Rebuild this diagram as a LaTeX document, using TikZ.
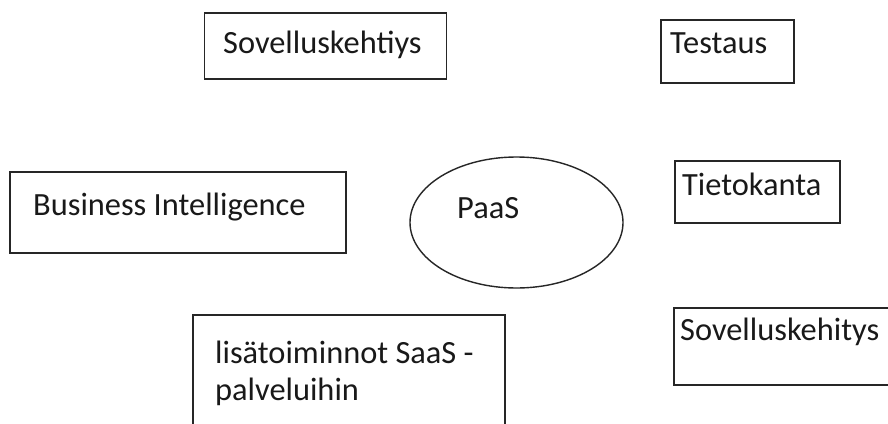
\documentclass[tikz,border=0pt]{standalone}
\usepackage{fontspec}
\setmainfont{Carlito}
\usetikzlibrary{shapes.geometric}
\begin{document}
\begin{tikzpicture}[x=1pt,y=-1pt,
  box/.style={draw=black!85, line width=1.6pt, rectangle, inner sep=0pt, anchor=north west},
  oval/.style={draw=black!85, line width=1.4pt, ellipse, inner sep=0pt, minimum width=213pt, minimum height=131pt},
  lbl/.style={inner sep=0pt, anchor=base west, font=\fontsize{32.4}{37}\selectfont, text=black!90, align=left}]
\clip (0,0) rectangle (888,423);
\fill[white] (0,0) rectangle (888,423);
% boxes
\node[box, minimum width=242pt, minimum height=66pt] (b1) at (203.5,12) {};
\node[lbl] (t1) at (223,53) {Sovelluskehtiys};
\node[box, minimum width=133pt, minimum height=63pt] (b2) at (660,19) {};
\node[lbl] (t2) at (670,53) {Testaus};
\node[box, minimum width=336pt, minimum height=81pt] (b3) at (9,171) {};
\node[lbl] (t3) at (33,215) {Business Intelligence};
\node[oval] (e) at (516.5,222.5) {};
\node[lbl] (t4) at (457,218) {PaaS};
\node[box, minimum width=165pt, minimum height=62pt] (b5) at (674,160) {};
\node[lbl] (t5) at (682,195) {Tietokanta};
\node[box, minimum width=312pt, minimum height=140pt] (b6) at (192,314) {};
\node[lbl] (t6) at (215,363) {lisätoiminnot SaaS -};
\node[lbl] (t7) at (215,400) {palveluihin};
\node[box, minimum width=230pt, minimum height=77pt] (b7) at (673,307) {};
\node[lbl] (t8) at (680,340) {Sovelluskehitys};
\end{tikzpicture}
\end{document}
